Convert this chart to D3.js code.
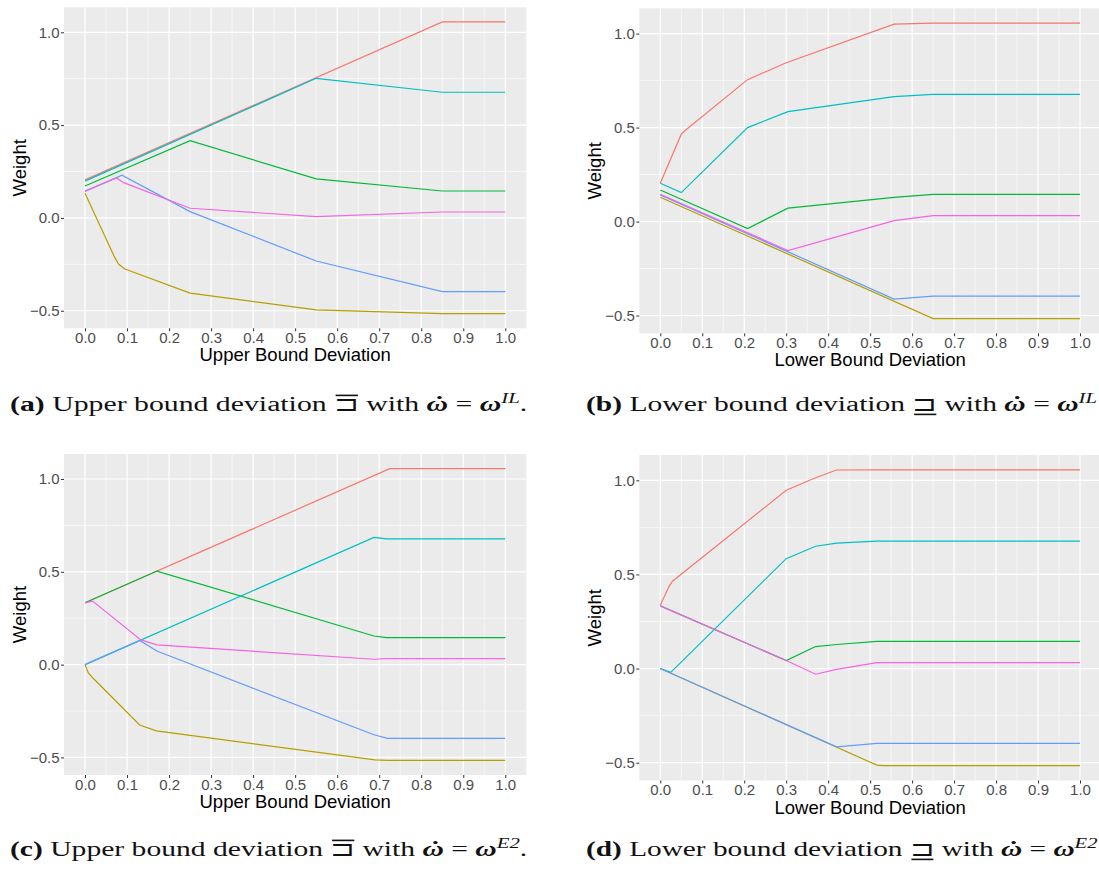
<!DOCTYPE html>
<html>
<head>
<meta charset="utf-8">
<script src="https://cdn.jsdelivr.net/npm/d3@7"></script>
<style>
  body { margin: 0; background: #fff; }
  svg { display: block; }
</style>
</head>
<body>
<div id="chart"></div>
<script>
// series order follows ggplot's default hue palette
const seriesNames = ["s1", "s2", "s3", "s4", "s5", "s6"]
const seriesColors = ["#F8766D", "#B79F00", "#00BA38", "#00BFC4", "#619CFF", "#F564E3"]

const xTicks = [0, 0.1, 0.2, 0.3, 0.4, 0.5, 0.6, 0.7, 0.8, 0.9, 1.0]
const yTicks = [-0.5, 0, 0.5, 1.0]

// [deviation, weight] per series
const upperIL = [
    [[0, 0.205], [0.85, 1.056], [1, 1.056]],
    [[0, 0.133], [0.07, -0.21], [0.08, -0.25], [0.095, -0.275], [0.25, -0.405], [0.55, -0.495], [0.85, -0.516], [1, -0.516]],
    [[0, 0.172], [0.25, 0.416], [0.55, 0.21], [0.85, 0.145], [1, 0.145]],
    [[0, 0.198], [0.55, 0.752], [0.85, 0.677], [1, 0.677]],
    [[0, 0.143], [0.088, 0.23], [0.25, 0.034], [0.55, -0.232], [0.85, -0.397], [1, -0.397]],
    [[0, 0.145], [0.075, 0.215], [0.092, 0.19], [0.25, 0.052], [0.55, 0.007], [0.85, 0.032], [1, 0.032]]
]
const lowerIL = [
    [[0, 0.204], [0.05, 0.465], [0.062, 0.49], [0.208, 0.755], [0.3, 0.845], [0.557, 1.05], [0.65, 1.056], [1, 1.056]],
    [[0, 0.129], [0.65, -0.516], [1, -0.516]],
    [[0, 0.168], [0.208, -0.037], [0.304, 0.071], [0.557, 0.129], [0.65, 0.145], [1, 0.145]],
    [[0, 0.204], [0.05, 0.154], [0.208, 0.5], [0.304, 0.585], [0.557, 0.665], [0.65, 0.677], [1, 0.677]],
    [[0, 0.142], [0.557, -0.413], [0.65, -0.397], [1, -0.397]],
    [[0, 0.145], [0.304, -0.154], [0.557, 0.005], [0.65, 0.032], [1, 0.032]]
]
const upperE2 = [
    [[0, 0.333], [0.725, 1.056], [1, 1.056]],
    [[0, 0], [0.008, -0.045], [0.02, -0.075], [0.13, -0.325], [0.17, -0.357], [0.69, -0.513], [0.72, -0.516], [1, -0.516]],
    [[0, 0.333], [0.171, 0.504], [0.6875, 0.154], [0.717, 0.145], [1, 0.145]],
    [[0, 0], [0.6875, 0.685], [0.717, 0.677], [1, 0.677]],
    [[0, 0], [0.13, 0.13], [0.171, 0.073], [0.6875, -0.378], [0.72, -0.397], [1, -0.397]],
    [[0, 0.333], [0.018, 0.342], [0.133, 0.133], [0.171, 0.106], [0.6875, 0.029], [0.717, 0.032], [1, 0.032]]
]
const lowerE2 = [
    [[0, 0.336], [0.021, 0.437], [0.029, 0.464], [0.3, 0.947], [0.37, 1.014], [0.42, 1.055], [0.516, 1.056], [1, 1.056]],
    [[0, 0], [0.516, -0.513], [0.53, -0.516], [1, -0.516]],
    [[0, 0.333], [0.3, 0.043], [0.37, 0.117], [0.42, 0.128], [0.516, 0.145], [1, 0.145]],
    [[0, 0], [0.025, -0.02], [0.3, 0.584], [0.37, 0.65], [0.42, 0.666], [0.516, 0.677], [1, 0.677]],
    [[0, 0], [0.42, -0.416], [0.516, -0.397], [1, -0.397]],
    [[0, 0.333], [0.3, 0.043], [0.37, -0.03], [0.42, -0.004], [0.516, 0.032], [1, 0.032]]
]

const xTitles = ["Upper Bound Deviation", "Lower Bound Deviation", "Upper Bound Deviation", "Lower Bound Deviation"]
const captionLetters = ["a", "b", "c", "d"]
const captionKinds = ["Upper", "Lower", "Upper", "Lower"]
const captionSups = ["IL", "IL", "E2", "E2"]

const W = 1099, H = 869

const svg = d3.select("#chart").append("svg")
    .attr("width", W)
    .attr("height", H)

// panel boxes (grey area)
const panels = [
    { data: upperIL, left: 64, right: 526.3, top: 7.3, bottom: 328.3 },
    { data: lowerIL, left: 639.3, right: 1101, top: 8.3, bottom: 333.3 },
    { data: upperE2, left: 64, right: 526.3, top: 454, bottom: 775 },
    { data: lowerE2, left: 639.3, right: 1101, top: 455, bottom: 780.5 }
]

const drawPanel = (p, i) => {
    const allY = p.data.flat().map(d => d[1])
    const [lo, hi] = d3.extent(allY)
    const pad = (hi - lo) * 0.05

    const x = d3.scaleLinear().domain([-0.05, 1.05]).range([p.left, p.right])
    const y = d3.scaleLinear().domain([lo - pad, hi + pad]).range([p.bottom, p.top])

    const g = svg.append("g")

    g.append("rect")
        .attr("x", p.left)
        .attr("y", p.top)
        .attr("width", p.right - p.left)
        .attr("height", p.bottom - p.top)
        .attr("fill", "#EBEBEB")

    // minor grid halfway between the major ticks
    const xMinor = d3.pairs(xTicks).map(([a, b]) => (a + b) / 2)
    const yMinor = d3.pairs(yTicks).map(([a, b]) => (a + b) / 2)

    g.selectAll(".xminor").data(xMinor).join("line")
        .attr("x1", d => x(d)).attr("x2", d => x(d))
        .attr("y1", p.top).attr("y2", p.bottom)
        .attr("stroke", "#fff").attr("stroke-width", 0.6)
    g.selectAll(".yminor").data(yMinor).join("line")
        .attr("y1", d => y(d)).attr("y2", d => y(d))
        .attr("x1", p.left).attr("x2", p.right)
        .attr("stroke", "#fff").attr("stroke-width", 0.6)
    g.selectAll(".xmajor").data(xTicks).join("line")
        .attr("x1", d => x(d)).attr("x2", d => x(d))
        .attr("y1", p.top).attr("y2", p.bottom)
        .attr("stroke", "#fff").attr("stroke-width", 1.2)
    g.selectAll(".ymajor").data(yTicks).join("line")
        .attr("y1", d => y(d)).attr("y2", d => y(d))
        .attr("x1", p.left).attr("x2", p.right)
        .attr("stroke", "#fff").attr("stroke-width", 1.2)

    const line = d3.line().x(d => x(d[0])).y(d => y(d[1]))

    g.selectAll(".series").data(p.data).join("path")
        .attr("d", line)
        .attr("fill", "none")
        .attr("stroke", (d, k) => seriesColors[k])
        .attr("stroke-width", 1.2)
        .attr("data-name", (d, k) => seriesNames[k])

    // axes
    const xAxis = g.append("g")
        .attr("transform", `translate(0,${p.bottom})`)
        .call(d3.axisBottom(x).tickValues(xTicks).tickFormat(d3.format(".1f")).tickSize(3).tickPadding(1.2))
    const yAxis = g.append("g")
        .attr("transform", `translate(${p.left},0)`)
        .call(d3.axisLeft(y).tickValues(yTicks).tickFormat(d3.format(".1f")).tickSize(3).tickPadding(1.5))

    ;[xAxis, yAxis].forEach(a => {
        a.select(".domain").remove()
        a.selectAll("line").attr("stroke", "#333")
        a.selectAll("text")
            .attr("fill", "#4D4D4D")
            .style("font-family", "'Liberation Sans', Arial, sans-serif")
            .style("font-size", "15px")
    })

    g.append("text")
        .attr("x", (p.left + p.right) / 2)
        .attr("y", p.bottom + 33)
        .attr("text-anchor", "middle")
        .style("font-family", "'Liberation Sans', Arial, sans-serif")
        .style("font-size", "18.5px")
        .text(xTitles[i])

    g.append("text")
        .attr("transform", `translate(${p.left - 38},${(p.top + p.bottom) / 2}) rotate(-90)`)
        .attr("text-anchor", "middle")
        .style("font-family", "'Liberation Sans', Arial, sans-serif")
        .style("font-size", "18.5px")
        .text("Weight")
}

panels.forEach(drawPanel)

// sub-figure captions
const captionPos = [
    { x: 10, y: 411, w: 518 },
    { x: 586, y: 411, w: 512 },
    { x: 10, y: 856, w: 518 },
    { x: 586, y: 856, w: 512 }
]

const drawCaption = (i) => {
    const pos = captionPos[i]
    const fs = 20
    const g = svg.append("g")
    const t = g.append("text")
        .style("font-family", "'Liberation Serif', 'Times New Roman', serif")
        .style("font-size", fs + "px")
        .attr("fill", "#111")

    const lead = `(${captionLetters[i]})`
    const mid = ` ${captionKinds[i]} bound deviation `
    const withTxt = " with "
    t.append("tspan").style("font-weight", "bold").text(lead)
    t.append("tspan").text(mid)
    t.append("tspan").text("\u2290")
    t.append("tspan").text(withTxt)
    t.append("tspan").style("font-weight", "bold").style("font-style", "italic").text("\u03C9")
    t.append("tspan").text(" = ")
    t.append("tspan").style("font-weight", "bold").style("font-style", "italic").text("\u03C9")
    t.append("tspan").attr("dy", -8).style("font-size", "14px").style("font-style", "italic").text(captionSups[i])
    if (i % 2 === 0) t.append("tspan").attr("dy", 8).text(".")

    // bar over (upper) or under (lower) the bracket symbol
    const idx = (lead + mid).length
    const box = t.node().getExtentOfChar(idx)
    const barY = captionKinds[i] === "Upper" ? -fs * 0.78 : fs * 0.17
    g.append("line")
        .attr("x1", box.x + 1).attr("x2", box.x + box.width - 1)
        .attr("y1", barY).attr("y2", barY)
        .attr("stroke", "#111").attr("stroke-width", 1.6)

    // dot accent over the first omega
    const om = t.node().getExtentOfChar(idx + 1 + withTxt.length)
    g.append("circle")
        .attr("cx", om.x + om.width / 2 + 1)
        .attr("cy", -fs * 0.68)
        .attr("r", 1.5)
        .attr("fill", "#111")

    const bb = t.node().getBBox()
    const sx = pos.w / bb.width
    g.attr("transform", `translate(${pos.x - bb.x * sx},${pos.y}) scale(${sx},1)`)
}

captionLetters.forEach((d, i) => drawCaption(i))
</script>
</body>
</html>
